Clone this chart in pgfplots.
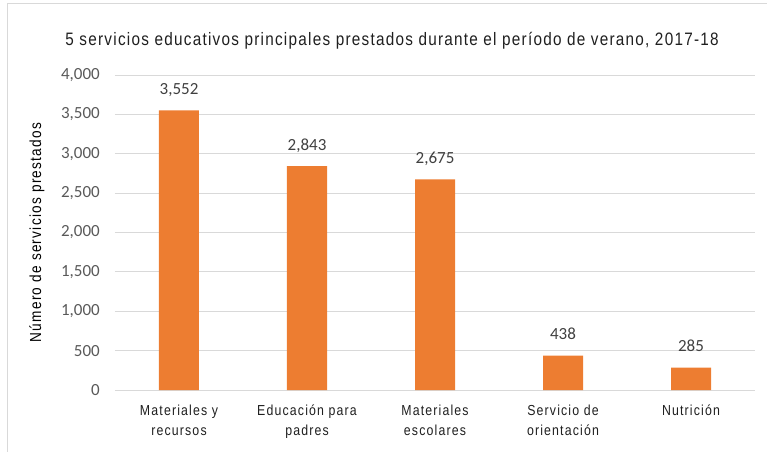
\documentclass[border=0pt]{standalone}
\usepackage{fontspec}
\setmainfont{Carlito}
\newfontfamily\narrowtitle[FakeStretch=0.85,LetterSpace=7]{Liberation Sans}
\newfontfamily\narrowlab[FakeStretch=0.85,LetterSpace=8]{Liberation Sans}
\usepackage{pgfplots}
\pgfplotsset{compat=1.18}
\definecolor{barorange}{HTML}{ED7D31}
\definecolor{gridgray}{HTML}{D9D9D9}
\definecolor{ticktext}{HTML}{595959}
\definecolor{labeltext}{HTML}{404040}
\begin{document}
\begin{tikzpicture}
\useasboundingbox (-115bp,-62bp) rectangle (652bp,390bp);
\begin{axis}[
  at={(0,0)}, anchor=south west,
  scale only axis, width=640bp, height=315bp,
  xmin=-0.5, xmax=4.5, ymin=0, ymax=4000,
  ytick={0,500,...,4000},
  xtick=data,
  xticklabels={Materiales y\\recursos, Educación para\\padres, Materiales\\escolares, Servicio de\\orientación, Nutrición},
  major tick length=0pt,
  axis line style={draw=none},
  ymajorgrids, grid style={gridgray, line width=0.9bp},
  /pgf/number format/assume math mode=true,
  /pgf/number format/1000 sep={,},
  y tick label style={font=\fontsize{17bp}{19bp}\selectfont, color=ticktext, anchor=east, inner sep=0pt, xshift=-15bp},
  x tick label style={font=\narrowlab\fontsize{14.5bp}{20bp}\selectfont, color=black!88, align=center, anchor=north, inner sep=0pt, yshift=-15bp},
  every axis y label/.style={at={(axis description cs:-0.122,0.5)}, rotate=90, anchor=center},
  ylabel={\narrowlab\fontsize{16bp}{19bp}\selectfont Número de servicios prestados},
  title style={at={(axis description cs:0.433,1.09)}, anchor=center, inner sep=0pt},
  title={\narrowtitle\fontsize{18bp}{20bp}\selectfont\color{black!88}5 servicios educativos principales prestados durante el período de verano, 2017-18},
  nodes near coords,
  every node near coord/.append style={font=\fontsize{17bp}{19bp}\selectfont, color=labeltext, anchor=base, inner sep=0pt, yshift=16bp},
  clip=false,
]
\addplot[ybar, bar width=40bp, fill=barorange, draw=none] coordinates {(0,3552) (1,2843) (2,2675) (3,438) (4,285)};
\end{axis}
\draw[gridgray, line width=1bp] (-107bp,-70bp) -- (-107bp,386bp) -- (660bp,386bp);
\end{tikzpicture}
\end{document}
